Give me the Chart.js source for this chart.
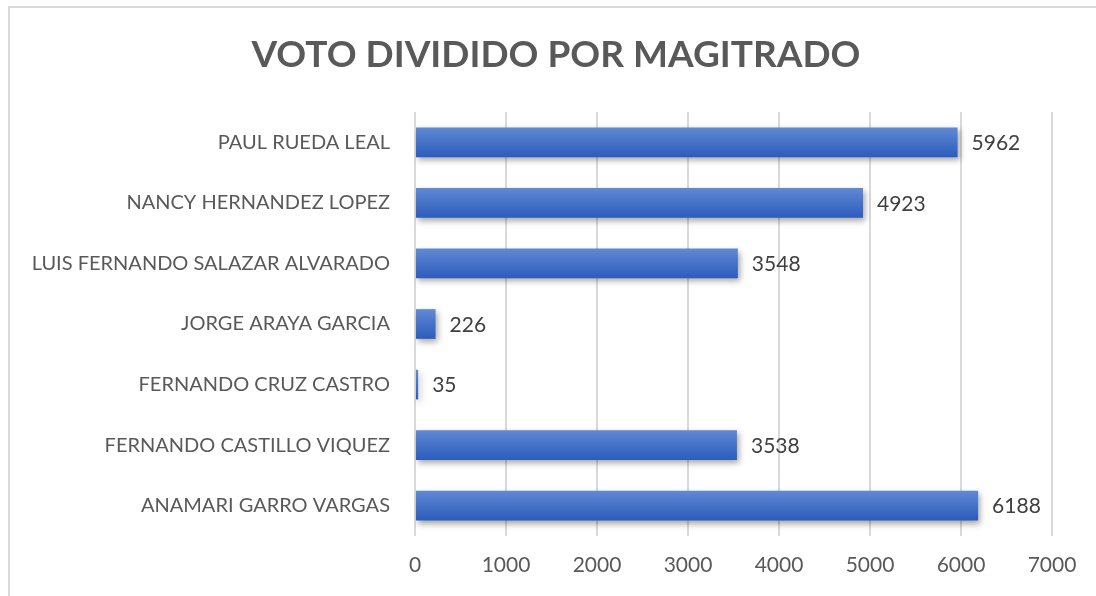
<!DOCTYPE html>
<html lang="es">

<head>
  <meta charset="UTF-8">
  <meta name="viewport" content="width=device-width, initial-scale=1.0">
  <title>Voto dividido por magistrado</title>
  <script src="https://cdn.jsdelivr.net/npm/chart.js@4.4.1/dist/chart.umd.min.js"></script>
  <style>
    html, body { margin: 0; padding: 0; background: #fff; }
    #wrap { position: relative; width: 1096px; height: 596px; overflow: hidden; }
    #frame { position: absolute; left: 8px; top: 6px; width: 1200px; height: 700px; border: 2px solid #d9d9d9; box-sizing: border-box; }
    canvas { position: absolute; left: 0; top: 0; }
  </style>
</head>
<body>
  <div id="wrap">
    <div id="frame"></div>
    <canvas id="chart" width="1096" height="596"></canvas>
  </div>
  <script>
    const labels = [
      'PAUL RUEDA LEAL',
      'NANCY HERNANDEZ LOPEZ',
      'LUIS FERNANDO SALAZAR ALVARADO',
      'JORGE ARAYA GARCIA',
      'FERNANDO CRUZ CASTRO',
      'FERNANDO CASTILLO VIQUEZ',
      'ANAMARI GARRO VARGAS'
    ];
    const votos = [5962, 4923, 3548, 226, 35, 3538, 6188];

    // gradient + shadow on the bars, value labels, title centred on the frame
    const barExtras = {
      id: 'barExtras',
      beforeDatasetDraw(chart) {
        const c = chart.ctx;
        chart.getDatasetMeta(0).data.forEach(bar => {
          const g = c.createLinearGradient(0, bar.y - bar.height / 2, 0, bar.y + bar.height / 2);
          g.addColorStop(0, '#6089d4');
          g.addColorStop(1, '#2c5cbc');
          bar.options.backgroundColor = g;
        });
        c.save();
        c.shadowColor = 'rgba(0,0,0,0.35)';
        c.shadowBlur = 6;
        c.shadowOffsetX = 2;
        c.shadowOffsetY = 3;
      },
      afterDatasetDraw(chart) {
        chart.ctx.restore();
      },
      afterDatasetsDraw(chart) {
        const c = chart.ctx;
        const meta = chart.getDatasetMeta(0);
        c.save();
        c.font = '21px Lato';
        c.fillStyle = '#404040';
        c.textBaseline = 'middle';
        c.textAlign = 'left';
        meta.data.forEach((bar, i) => {
          c.fillText(votos[i], bar.x + 14, bar.y + 1);
        });
        c.font = 'bold 37px Lato';
        c.fillStyle = '#595959';
        c.textAlign = 'center';
        c.fillText('VOTO DIVIDIDO POR MAGITRADO', 556, 55);
        c.restore();
      }
    };

    const ctx = document.getElementById('chart').getContext('2d');
    const myChart = new Chart(ctx, {
      type: 'bar',
      data: {
        labels: labels,
        datasets: [{
          label: 'Votos',
          data: votos,
          backgroundColor: (context) => '#4472c4',
          borderWidth: 0,
          categoryPercentage: 1,
          barPercentage: 0.49
        }]
      },
      options: {
        indexAxis: 'y',
        responsive: false,
        animation: false,
        layout: { padding: { top: 112, right: 44, left: 0, bottom: 0 } },
        plugins: {
          legend: { display: false },
          tooltip: { enabled: false },
          title: { display: false }
        },
        scales: {
          x: {
            min: 0,
            max: 7000,
            ticks: {
              stepSize: 1000,
              color: '#595959',
              font: { family: 'Lato', size: 21 },
              padding: 17,
              callback: (v) => String(v)
            },
            grid: { color: '#d9d9d9', lineWidth: 2, drawTicks: false },
            border: { display: false },
            afterFit(scale) { scale.height = 60; }
          },
          y: {
            ticks: {
              color: '#595959',
              font: { family: 'Lato', size: 20 },
              padding: 25
            },
            grid: { display: false, drawTicks: false },
            border: { display: false },
            afterFit(scale) { scale.width = 415; }
          }
        }
      },
      plugins: [barExtras]
    });
  </script>
</body>

</html>
